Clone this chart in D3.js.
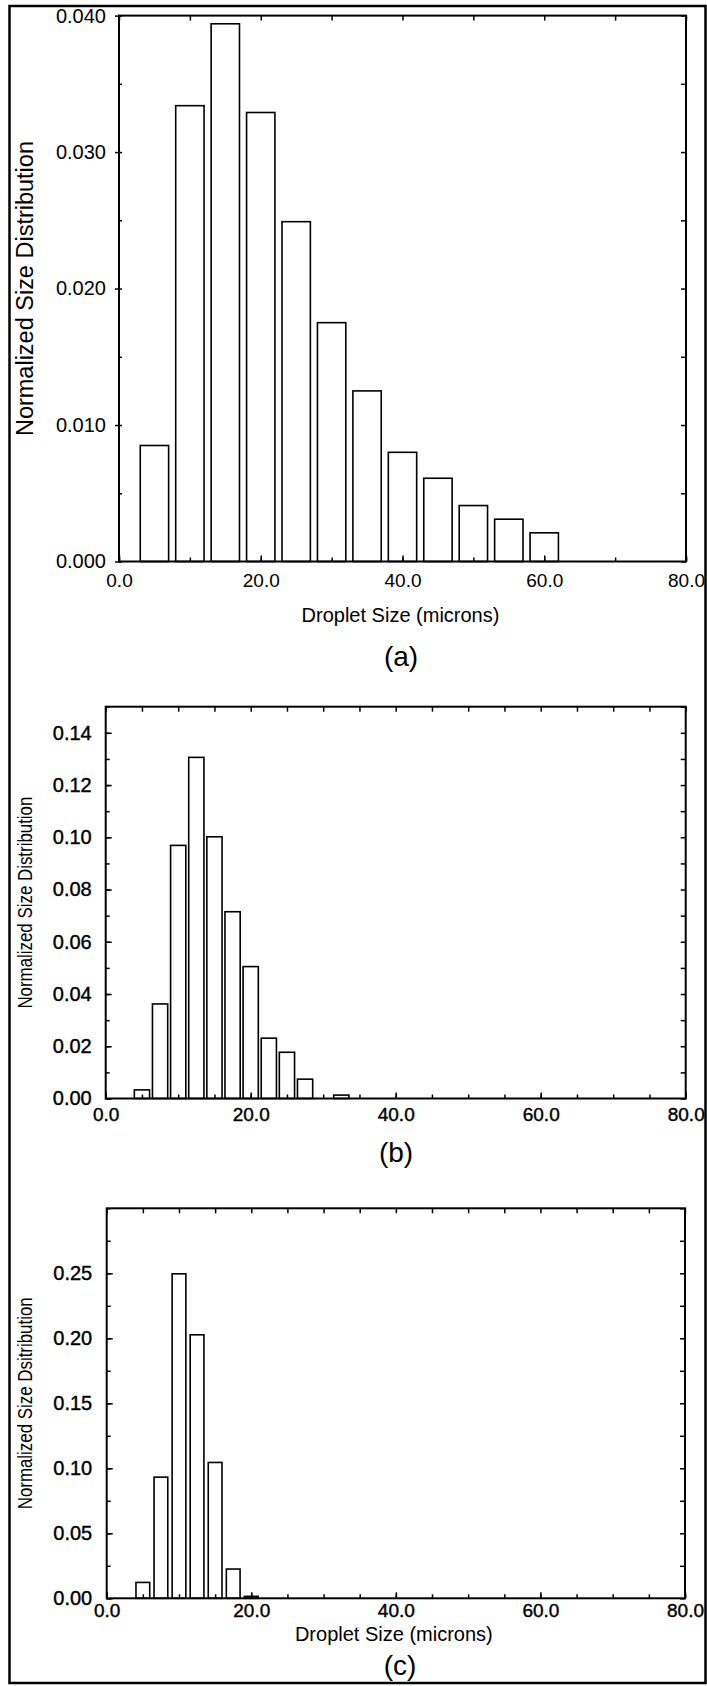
<!DOCTYPE html>
<html>
<head>
<meta charset="utf-8">
<script src="https://cdn.jsdelivr.net/npm/d3@7"></script>
<style>
  body { margin: 0; background: #fff; }
  svg { display: block; font-family: 'Liberation Sans', Arial, Helvetica, sans-serif; }
</style>
</head>
<body>
<svg id="chart" width="707" height="1686"></svg>
<script>
// droplet size axis (microns), shared by the three panels
const xTicks = [0, 20, 40, 60, 80]

// (a)
const sizesA = [5, 10, 15, 20, 25, 30, 35, 40, 45, 50, 55, 60]
const valuesA = [0.0085, 0.0334, 0.0394, 0.0329, 0.0249, 0.0175, 0.0125, 0.0080, 0.0061, 0.0041, 0.0031, 0.0021]
const yTicksA = [0, 0.01, 0.02, 0.03, 0.04]

// (b)
const sizesB = [5, 7.5, 10, 12.5, 15, 17.5, 20, 22.5, 25, 27.5, 32.5]
const valuesB = [0.0033, 0.0362, 0.0969, 0.1306, 0.1002, 0.0715, 0.0505, 0.0231, 0.0177, 0.0074, 0.0013]
const yTicksB = [0, 0.02, 0.04, 0.06, 0.08, 0.10, 0.12, 0.14]

// (c)
const sizesC = [5, 7.5, 10, 12.5, 15, 17.5, 20]
const valuesC = [0.0122, 0.0932, 0.2496, 0.2027, 0.1045, 0.0225, 0.0015]
const yTicksC = [0, 0.05, 0.10, 0.15, 0.20, 0.25]

const svg = d3.select('#chart')

// outer frame round the whole figure
svg.append('rect')
  .attr('x', 9.5).attr('y', 6)
  .attr('width', 696).attr('height', 1677)
  .attr('fill', 'none').attr('stroke', '#000').attr('stroke-width', 2.5)

const panels = [
  {
    sizes: sizesA, values: valuesA, yTicks: yTicksA, yFormat: '.3f', yMax: 0.04, yMinor: 0.005,
    xMinor: 10, barWidth: 4,
    left: 119, right: 686, top: 15.6, bottom: 561.5,
    leftTick: 4, leftPad: 9, xPad: 12.5,
    yLabel: 'Normalized Size Distribution', yLabelSize: 23.5, yLabelLen: 295,
    xLabel: 'Droplet Size (microns)', xLabelY: 615,
    tag: '(a)', tagX: 401, tagY: 656, weight: 0
  },
  {
    sizes: sizesB, values: valuesB, yTicks: yTicksB, yFormat: '.2f', yMax: 0.15, yMinor: 0.01,
    xMinor: 5, barWidth: 2.1,
    left: 105.7, right: 685.7, top: 706.7, bottom: 1098.5,
    leftTick: -6, leftPad: 14, xPad: 9.5,
    yLabel: 'Normalized Size Distribution', yLabelSize: 20, yLabelLen: 212,
    xLabel: null,
    tag: '(b)', tagX: 396, tagY: 1152, weight: 0.4
  },
  {
    sizes: sizesC, values: valuesC, yTicks: yTicksC, yFormat: '.2f', yMax: 0.30, yMinor: 0.025,
    xMinor: 5, barWidth: 1.9,
    left: 106.7, right: 685, top: 1208.3, bottom: 1598.3,
    leftTick: -6, leftPad: 14.5, xPad: 5,
    yLabel: 'Normalized Size Dsitribution', yLabelSize: 20, yLabelLen: 212,
    xLabel: 'Droplet Size (microns)', xLabelY: 1634,
    tag: '(c)', tagX: 400, tagY: 1665, weight: 0.4
  }
]

panels.forEach(p => drawPanel(p))

function drawPanel(p) {
  const x = d3.scaleLinear().domain([0, 80]).range([p.left, p.right])
  const y = d3.scaleLinear().domain([0, p.yMax]).range([p.bottom, p.top])
  const g = svg.append('g')

  const bars = p.sizes.map((s, i) => ({ size: s, value: p.values[i] }))

  g.selectAll('rect.bar')
    .data(bars)
    .join('rect')
    .classed('bar', true)
    .attr('x', d => x(d.size - p.barWidth / 2))
    .attr('width', x(p.barWidth) - x(0))
    .attr('y', d => y(d.value))
    .attr('height', d => y(0) - y(d.value))
    .attr('fill', '#fff')
    .attr('stroke', '#000')
    .attr('stroke-width', 1.6)

  const minorX = d3.range(0, 80.001, p.xMinor)
  const minorY = d3.range(0, p.yMax + 1e-9, p.yMinor)

  // bottom axis with labels, ticks pointing up
  g.append('g')
    .attr('transform', `translate(0,${p.bottom})`)
    .call(d3.axisBottom(x).tickValues(minorX).tickSizeInner(-4).tickSizeOuter(0).tickFormat(''))
  g.append('g')
    .attr('class', 'xmajor')
    .attr('transform', `translate(0,${p.bottom})`)
    .call(d3.axisBottom(x).tickValues(xTicks).tickSizeInner(-6).tickSizeOuter(0)
      .tickPadding(p.xPad).tickFormat(d3.format('.1f')))

  // top axis, ticks pointing down
  g.append('g')
    .attr('transform', `translate(0,${p.top})`)
    .call(d3.axisTop(x).tickValues(minorX).tickSizeInner(-5).tickSizeOuter(0).tickFormat(''))

  // left axis with labels
  g.append('g')
    .attr('transform', `translate(${p.left},0)`)
    .call(d3.axisLeft(y).tickValues(minorY).tickSizeInner(p.leftTick > 0 ? -3 : -4).tickSizeOuter(0).tickFormat(''))
  g.append('g')
    .attr('transform', `translate(${p.left},0)`)
    .call(d3.axisLeft(y).tickValues(p.yTicks).tickSizeInner(p.leftTick).tickSizeOuter(0)
      .tickPadding(p.leftPad).tickFormat(d3.format(p.yFormat)))

  // right axis, ticks pointing in
  g.append('g')
    .attr('transform', `translate(${p.right},0)`)
    .call(d3.axisRight(y).tickValues(minorY).tickSizeInner(-5).tickSizeOuter(0).tickFormat(''))

  g.selectAll('.domain').remove()
  g.selectAll('.tick line').attr('stroke', '#000').attr('stroke-width', 1.5)
  g.selectAll('.tick text')
    .attr('font-size', 20)
    .attr('font-family', "'Liberation Sans', Arial, sans-serif")
    .attr('fill', '#000')
    .attr('stroke', p.weight ? '#000' : 'none')
    .attr('stroke-width', p.weight)
  g.selectAll('.xmajor .tick text').attr('font-size', 19)

  // plot frame
  g.append('rect')
    .attr('x', p.left).attr('y', p.top)
    .attr('width', p.right - p.left).attr('height', p.bottom - p.top)
    .attr('fill', 'none').attr('stroke', '#000').attr('stroke-width', 2)

  // y title
  const cy = (p.top + p.bottom) / 2
  g.append('text')
    .attr('transform', `translate(25,${cy}) rotate(-90)`)
    .attr('text-anchor', 'middle')
    .attr('dominant-baseline', 'central')
    .attr('font-size', p.yLabelSize)
    .attr('textLength', p.yLabelLen)
    .attr('lengthAdjust', 'spacingAndGlyphs')
    .text(p.yLabel)

  if (p.xLabel) {
    g.append('text')
      .attr('x', (p.left + p.right) / 2 - 2)
      .attr('y', p.xLabelY)
      .attr('text-anchor', 'middle')
      .attr('dominant-baseline', 'central')
      .attr('font-size', 20)
      .text(p.xLabel)
  }

  g.append('text')
    .attr('x', p.tagX)
    .attr('y', p.tagY)
    .attr('text-anchor', 'middle')
    .attr('dominant-baseline', 'central')
    .attr('font-size', 28)
    .text(p.tag)
}
</script>
</body>
</html>
